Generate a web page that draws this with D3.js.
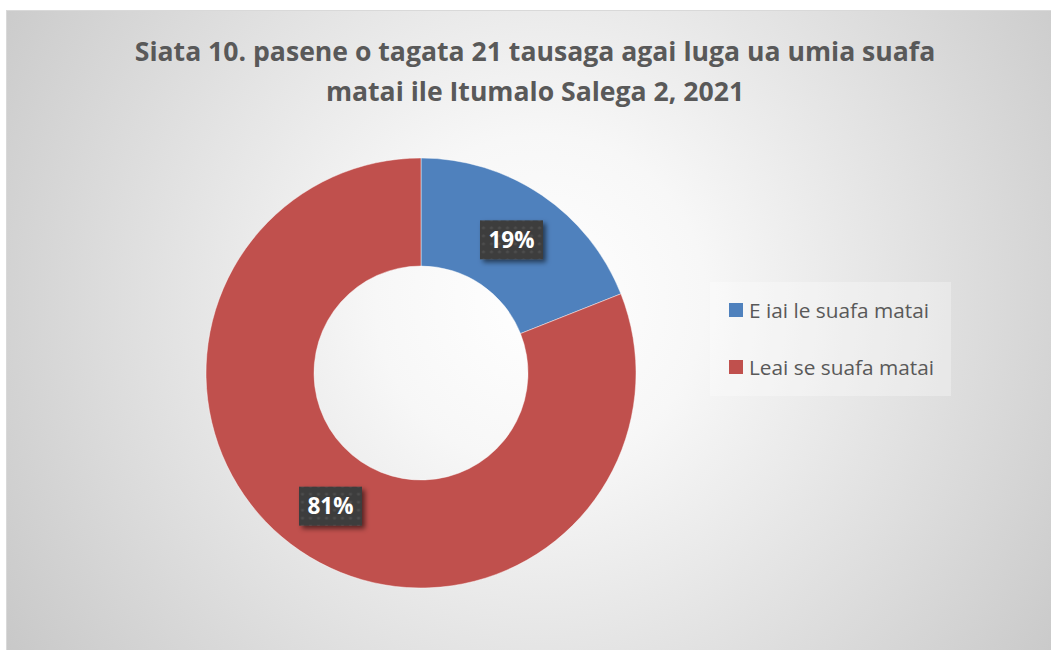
<!DOCTYPE html>
<html>
<head>
<meta charset="utf-8">
<script src="https://cdn.jsdelivr.net/npm/d3@7"></script>
<style>
  body { margin: 0; background: #fff; }
  svg { display: block; font-family: "Open Sans", "Noto Sans", sans-serif; }
  .title { font-weight: bold; fill: #595959; }
  .legendText { fill: #595959; }
  .pctLabel { font-weight: bold; fill: #fff; }
</style>
</head>
<body>
<div id="chart"></div>
<script>
// data
var categories  = ["E iai le suafa matai", "Leai se suafa matai"];
var values      = [19, 81];
var labels      = ["19%", "81%"];
var colors      = ["#4F81BD", "#C0504D"];
var titleLines  = ["Siata 10. pasene o tagata 21 tausaga agai luga ua umia suafa",
                   "matai ile Itumalo Salega 2, 2021"];

var DonutVis = function(opts) {
  this.element = opts.element;
  this.width   = opts.width;
  this.height  = opts.height;
  this.cx      = opts.cx;
  this.cy      = opts.cy;
  this.outerR  = opts.outerR;
  this.innerR  = opts.innerR;
  this.draw();
}

DonutVis.prototype.draw = function() {
  this.svg = this.element.append("svg")
    .attr("width", this.width)
    .attr("height", this.height);

  this.addDefs();
  this.addBackground();
  this.addTitle();
  this.addSlices();
  this.addLabels();
  this.addLegend();
}

DonutVis.prototype.addDefs = function() {
  var defs = this.svg.append("defs");

  var grad = defs.append("radialGradient")
    .attr("id", "bgGrad")
    .attr("gradientUnits", "userSpaceOnUse")
    .attr("cx", 540).attr("cy", 300).attr("r", 660);
  grad.append("stop").attr("offset", "0").attr("stop-color", "#ffffff");
  grad.append("stop").attr("offset", "0.25").attr("stop-color", "#f7f7f7");
  grad.append("stop").attr("offset", "1").attr("stop-color", "#c6c6c6");

  // dotted dark fill for the data labels
  var pat = defs.append("pattern")
    .attr("id", "dots")
    .attr("patternUnits", "userSpaceOnUse")
    .attr("width", 8).attr("height", 8);
  pat.append("rect").attr("width", 8).attr("height", 8).attr("fill", "#3d3d3d");
  pat.append("circle").attr("cx", 4).attr("cy", 4).attr("r", 1.6).attr("fill", "#4d4d4d");

  var f = defs.append("filter").attr("id", "shadow")
    .attr("x", "-30%").attr("y", "-30%").attr("width", "170%").attr("height", "170%");
  f.append("feDropShadow")
    .attr("dx", 3).attr("dy", 3).attr("stdDeviation", 2.5)
    .attr("flood-color", "#000").attr("flood-opacity", 0.55);
}

DonutVis.prototype.addBackground = function() {
  this.svg.append("rect")
    .attr("x", 6.5).attr("y", 10.5)
    .attr("width", this.width).attr("height", this.height)
    .attr("fill", "url(#bgGrad)")
    .attr("stroke", "#d9d9d9");
}

DonutVis.prototype.addTitle = function() {
  var t = this.svg.append("text")
    .attr("class", "title")
    .attr("text-anchor", "middle")
    .style("font-size", "26.6px");
  t.selectAll("tspan")
    .data(titleLines)
    .enter().append("tspan")
    .attr("x", 535)
    .attr("y", (d, i) => 61 + i * 40)
    .text(d => d);
}

DonutVis.prototype.addSlices = function() {
  this.pie = d3.pie().sort(null).value(d => d)(values);
  this.arc = d3.arc().innerRadius(this.innerR).outerRadius(this.outerR);

  this.plot = this.svg.append("g")
    .attr("transform", "translate(" + this.cx + "," + this.cy + ")");

  this.plot.selectAll(".slice")
    .data(this.pie)
    .enter().append("path")
    .attr("class", "slice")
    .attr("d", this.arc)
    .attr("fill", (d, i) => colors[i])
    .attr("stroke", "#ffffff")
    .attr("stroke-width", 0.75)
    .attr("stroke-opacity", 0.6);
}

DonutVis.prototype.addLabels = function() {
  var mid = d3.arc()
    .innerRadius((this.innerR + this.outerR) / 2)
    .outerRadius((this.innerR + this.outerR) / 2);
  var boxW = 63, boxH = 39;

  var g = this.plot.selectAll(".lbl")
    .data(this.pie)
    .enter().append("g")
    .attr("class", "lbl")
    .attr("transform", d => "translate(" + mid.centroid(d) + ")");

  g.append("rect")
    .attr("x", -boxW / 2).attr("y", -boxH / 2)
    .attr("width", boxW).attr("height", boxH)
    .attr("fill", "url(#dots)")
    .attr("filter", "url(#shadow)");

  g.append("text")
    .attr("class", "pctLabel")
    .attr("text-anchor", "middle")
    .attr("dy", "0.36em")
    .style("font-size", "22.5px")
    .text((d, i) => labels[i]);
}

DonutVis.prototype.addLegend = function() {
  var lg = this.svg.append("g").attr("transform", "translate(710,282)");

  lg.append("rect")
    .attr("width", 241).attr("height", 114)
    .attr("fill", "#ffffff").attr("fill-opacity", 0.3);

  var y = d3.scalePoint().domain(categories).range([0, 57]);

  var item = lg.selectAll(".item")
    .data(categories)
    .enter().append("g")
    .attr("class", "item")
    .attr("transform", d => "translate(19," + (21 + y(d)) + ")");

  item.append("rect")
    .attr("width", 14).attr("height", 14)
    .attr("fill", (d, i) => colors[i]);

  item.append("text")
    .attr("class", "legendText")
    .attr("x", 20).attr("y", 15)
    .style("font-size", "20.8px")
    .text(d => d);
}

new DonutVis({
  element: d3.select("#chart"),
  width: 1051,
  height: 650,
  cx: 421,
  cy: 373,
  outerR: 215,
  innerR: 107
});
</script>
</body>
</html>
